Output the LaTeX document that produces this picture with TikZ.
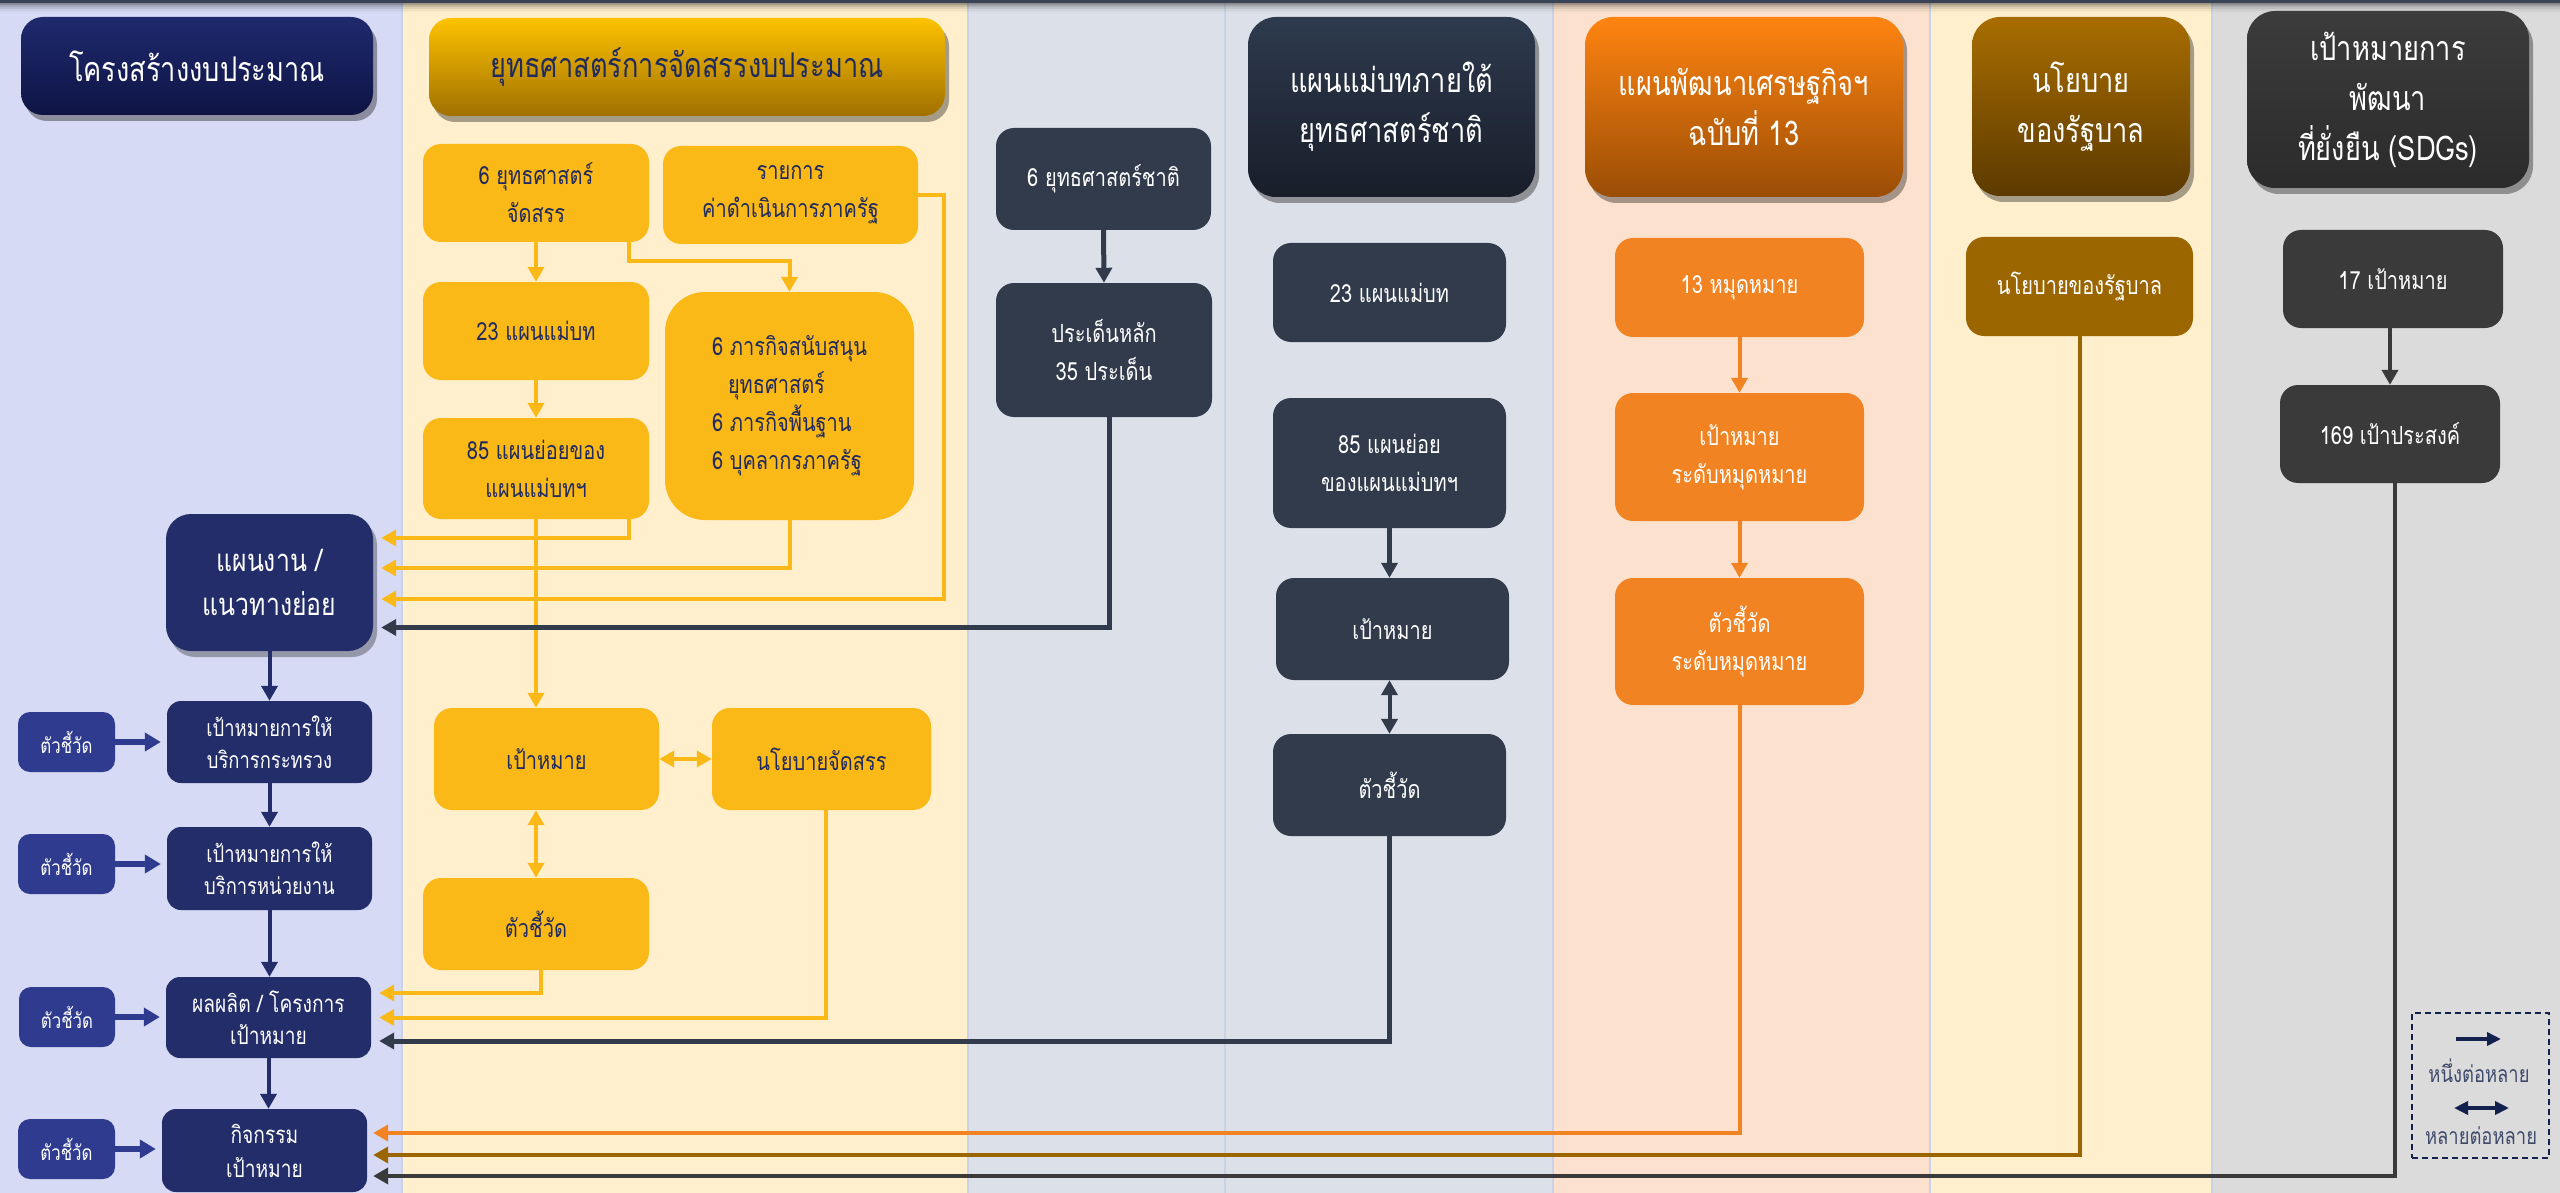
\documentclass[tikz,border=0pt]{standalone}
\usepackage{fontspec}
\setmainfont[Script=Thai,FakeStretch=0.8]{Loma}
\usetikzlibrary{arrows.meta,shadows,calc}
\definecolor{bgA}{HTML}{D6DAF4}
\definecolor{bgB}{HTML}{FFEFCD}
\definecolor{bgC}{HTML}{DCE0E8}
\definecolor{bgD}{HTML}{FCE2CE}
\definecolor{bgE}{HTML}{DCDBDC}
\definecolor{sepc}{HTML}{C8D3E8}
\definecolor{topband}{HTML}{3B4356}
\definecolor{navy}{HTML}{232D69}
\definecolor{navyk}{HTML}{2F3B8E}
\definecolor{navyt}{HTML}{1F2A5E}
\definecolor{yel}{HTML}{FBB917}
\definecolor{slate}{HTML}{313B4C}
\definecolor{orng}{HTML}{F28322}
\definecolor{brwn}{HTML}{9B6500}
\definecolor{dgray}{HTML}{3A3A3A}
\definecolor{legc}{HTML}{13214F}
\definecolor{legt}{HTML}{3F4A6B}
\definecolor{hAt}{HTML}{1F2A6E}\definecolor{hAb}{HTML}{0E1444}
\definecolor{hBt}{HTML}{FDC200}\definecolor{hBb}{HTML}{A07000}
\definecolor{hCt}{HTML}{2E3A4E}\definecolor{hCb}{HTML}{181E2A}
\definecolor{hDt}{HTML}{FF8411}\definecolor{hDb}{HTML}{9A4D05}
\definecolor{hEt}{HTML}{A86D00}\definecolor{hEb}{HTML}{5C3A00}
\definecolor{hFt}{HTML}{3C3C3C}\definecolor{hFb}{HTML}{2B2B2B}
\newcommand\mybox[7]{%
  \pgfmathsetmacro\bxw{#4-#2}\pgfmathsetmacro\bxh{#5-#3}%
  \pgfmathsetmacro\bxcx{(#2+#4)/2}\pgfmathsetmacro\bxcy{(#3+#5)/2}%
  \node[#6, minimum width=\bxw pt, minimum height=\bxh pt] (#1) at (\bxcx,\bxcy) {#7};}
\tikzset{
  base/.style={rounded corners=18pt, inner sep=0pt, align=center, font=\fontsize{25}{38}\selectfont},
  hdr/.style={base, rounded corners=22pt, text=white, font=\fontsize{34}{50}\selectfont,
     drop shadow={shadow xshift=4pt, shadow yshift=-6pt, opacity=0.35, fill=black}},
  ybox/.style={base, fill=yel, text=navyt},
  nbox/.style={base, fill=navy, text=white},
  kbox/.style={base, rounded corners=12pt, fill=navyk, text=white, font=\fontsize{21}{30}\selectfont},
  dbox/.style={base, fill=slate, text=white},
  obox/.style={base, fill=orng, text=white},
  bbox/.style={base, fill=brwn, text=white},
  gbox/.style={base, fill=dgray, text=white},
  tipT/.style={-{Triangle[length=15pt,width=16pt]}},
  tipD/.style={{Triangle[length=15pt,width=16pt]}-{Triangle[length=15pt,width=16pt]}},
  yA/.style={draw=yel, line width=4pt, tipT},
  yD/.style={draw=yel, line width=4pt, tipD},
  dA/.style={draw=slate, line width=5pt, tipT},
  dD/.style={draw=slate, line width=4pt, tipD},
  oA/.style={draw=orng, line width=4pt, tipT},
  bA/.style={draw=brwn, line width=4pt, tipT},
  gA/.style={draw=dgray, line width=4pt, tipT},
  nA/.style={draw=navy, line width=4pt, tipT},
  kA/.style={draw=navyk, line width=6pt, -{Triangle[length=16pt,width=18pt]}, shorten >=6pt},
}
\begin{document}
\begin{tikzpicture}[x=1pt,y=-1pt]
\useasboundingbox (0,0) rectangle (2560,1193);
% column backgrounds
\fill[bgA] (0,0) rectangle (402,1193);
\fill[bgB] (402,0) rectangle (968,1193);
\fill[bgC] (968,0) rectangle (1553,1193);
\fill[bgD] (1553,0) rectangle (1930,1193);
\fill[bgB] (1930,0) rectangle (2212,1193);
\fill[bgE] (2212,0) rectangle (2560,1193);
\foreach \sx in {402,968,1225,1553,1930,2212}
  \draw[sepc, line width=2pt] (\sx,0) -- (\sx,1193);
% top band
\foreach \i/\op in {3/0.22,5/0.16,7/0.11,9/0.07,11/0.04,13/0.02}
  \fill[black, opacity=\op] (0,3) rectangle (2560,\i);
\fill[topband] (0,0) rectangle (2560,3);

% headers
\mybox{h1}{21}{17}{373}{115}{hdr, top color=hAt, bottom color=hAb}{โครงสร้างงบประมาณ}
\mybox{h2}{429}{18}{945}{116}{hdr, text=navyt, top color=hBt, bottom color=hBb}{ยุทธศาสตร์การจัดสรรงบประมาณ}
\mybox{h3}{1248}{17}{1535}{197}{hdr, rounded corners=28pt, top color=hCt, bottom color=hCb}{แผนแม่บทภายใต้\\ยุทธศาสตร์ชาติ}
\mybox{h4}{1585}{17}{1903}{197}{hdr, rounded corners=28pt, top color=hDt, bottom color=hDb}{แผนพัฒนาเศรษฐกิจฯ\\ฉบับที่ 13}
\mybox{h5}{1972}{17}{2190}{196}{hdr, rounded corners=28pt, top color=hEt, bottom color=hEb}{นโยบาย\\ของรัฐบาล}
\mybox{h6}{2247}{11}{2529}{188}{hdr, rounded corners=28pt, top color=hFt, bottom color=hFb}{เป้าหมายการ\\พัฒนา\\ที่ยั่งยืน (SDGs)}

% column 2 (yellow)
\mybox{y1}{423}{144}{649}{242}{ybox}{6 ยุทธศาสตร์\\จัดสรร}
\mybox{y2}{663}{146}{918}{244}{ybox}{รายการ\\ค่าดำเนินการภาครัฐ}
\mybox{y3}{423}{282}{649}{380}{ybox}{23 แผนแม่บท}
\mybox{y4}{665}{292}{914}{520}{ybox, rounded corners=40pt, align=left}{6 ภารกิจสนับสนุน\\\hspace*{16pt}ยุทธศาสตร์\\6 ภารกิจพื้นฐาน\\6 บุคลากรภาครัฐ}
\mybox{y5}{423}{418}{649}{519}{ybox}{85 แผนย่อยของ\\แผนแม่บทฯ}
\mybox{y6}{434}{708}{659}{810}{ybox}{เป้าหมาย}
\mybox{y7}{712}{708}{931}{810}{ybox}{นโยบายจัดสรร}
\mybox{y8}{423}{878}{649}{970}{ybox}{ตัวชี้วัด}

% column 1 (navy)
\mybox{n1}{166}{514}{373}{651}{nbox, rounded corners=25pt, font=\fontsize{31}{44}\selectfont, drop shadow={shadow xshift=4pt, shadow yshift=-6pt, opacity=0.3, fill=black}}{แผนงาน /\\แนวทางย่อย}
\mybox{n2}{167}{701}{372}{783}{nbox, rounded corners=14pt, font=\fontsize{23}{32}\selectfont}{เป้าหมายการให้\\บริการกระทรวง}
\mybox{n3}{167}{827}{372}{910}{nbox, rounded corners=14pt, font=\fontsize{23}{32}\selectfont}{เป้าหมายการให้\\บริการหน่วยงาน}
\mybox{n4}{166}{977}{371}{1058}{nbox, rounded corners=14pt, font=\fontsize{24}{32}\selectfont}{ผลผลิต / โครงการ\\เป้าหมาย}
\mybox{n5}{162}{1109}{367}{1192}{nbox, rounded corners=14pt, font=\fontsize{24}{34}\selectfont}{กิจกรรม\\เป้าหมาย}
\mybox{k1}{18}{712}{115}{772}{kbox}{ตัวชี้วัด}
\mybox{k2}{18}{834}{115}{894}{kbox}{ตัวชี้วัด}
\mybox{k3}{19}{987}{115}{1047}{kbox}{ตัวชี้วัด}
\mybox{k4}{18}{1119}{115}{1179}{kbox}{ตัวชี้วัด}

% columns 3-4 (slate)
\mybox{d1}{996}{128}{1211}{230}{dbox}{6 ยุทธศาสตร์ชาติ}
\mybox{d2}{996}{283}{1212}{417}{dbox}{ประเด็นหลัก\\35 ประเด็น}
\mybox{d3}{1273}{243}{1506}{342}{dbox}{23 แผนแม่บท}
\mybox{d4}{1273}{398}{1506}{528}{dbox}{85 แผนย่อย\\ของแผนแม่บทฯ}
\mybox{d5}{1276}{578}{1509}{680}{dbox}{เป้าหมาย}
\mybox{d6}{1273}{734}{1506}{836}{dbox}{ตัวชี้วัด}

% column 5 (orange)
\mybox{o1}{1615}{238}{1864}{337}{obox}{13 หมุดหมาย}
\mybox{o2}{1615}{393}{1864}{521}{obox}{เป้าหมาย\\ระดับหมุดหมาย}
\mybox{o3}{1615}{578}{1864}{705}{obox}{ตัวชี้วัด\\ระดับหมุดหมาย}

% column 6-7
\mybox{b1}{1966}{237}{2193}{336}{bbox}{นโยบายของรัฐบาล}
\mybox{g1}{2283}{230}{2503}{328}{gbox}{17 เป้าหมาย}
\mybox{g2}{2280}{385}{2500}{483}{gbox}{169 เป้าประสงค์}

% yellow connectors
\draw[yA] (y1.south) -- (y3.north);
\draw[yA] ([xshift=-20pt]y1.south east) -- ++(0,19) -| (y4.north);
\draw[yA] (y3.south) -- (y5.north);
\draw[yA] ([xshift=-20pt]y5.south east) |- ([xshift=8pt,yshift=44.5pt]n1.east);
\draw[yA] (y4.south) |- ([xshift=8pt,yshift=14.5pt]n1.east);
\draw[yA] (y2.east) -- ++(26,0) |- ([xshift=8pt,yshift=-16.5pt]n1.east);
\draw[yA] (y5.south) -- (y5.south |- y6.north);
\draw[yD] (y6.east) -- (y7.west);
\draw[yD] (y8.north |- y6.south) -- (y8.north);
\draw[yA] ([xshift=5pt]y8.south) |- ([xshift=8pt,yshift=24.5pt]n4.east);
\draw[yA] ([xshift=4.5pt]y7.south) |- ([xshift=8pt]n4.east);

% slate connectors
\draw[dA] (d1.south) -- (d2.north);
\draw[dA] ([xshift=5pt]d2.south) |- ([xshift=8pt,yshift=-45pt]n1.east);
\draw[dA] (d4.south) -- (d4.south |- d5.north);
\draw[dD] (d4.south |- d5.south) -- (d4.south |- d6.north);
\draw[dA] (d6.south) |- ([xshift=8pt,yshift=-23.5pt]n4.east);

% orange / brown / gray connectors
\draw[oA] (o1.south) -- (o2.north);
\draw[oA] (o2.south) -- (o3.north);
\draw[oA] (o3.south) |- ([xshift=6pt,yshift=17.5pt]n5.east);
\draw[bA] (b1.south) |- ([xshift=6pt,yshift=-4.5pt]n5.east);
\draw[gA] (g2.north |- g1.south) -- (g2.north);
\draw[gA] ([xshift=5pt]g2.south) |- ([xshift=6pt,yshift=-25.5pt]n5.east);

% navy connectors
\draw[nA] (n1.south) -- (n1.south |- n2.north);
\draw[nA] (n2.south) -- (n2.south |- n3.north);
\draw[nA] (n3.south) -- (n3.south |- n4.north);
\draw[nA] (n4.south) -- (n4.south |- n5.north);
\draw[kA] (k1.east) -- (k1.east -| n2.west);
\draw[kA] (k2.east) -- (k2.east -| n3.west);
\draw[kA] (k3.east) -- (k3.east -| n4.west);
\draw[kA] (k4.east) -- (k4.east -| n5.west);

% legend
\mybox{lg}{2412}{1013}{2549}{1158}{draw=legc, line width=2pt, dash pattern=on 6pt off 4pt, inner sep=0pt}{}
\coordinate (la1) at (2456,1039);
\coordinate (la2) at (2501,1039);
\coordinate (lb1) at (2454,1108);
\coordinate (lb2) at (2509,1108);
\draw[legc, line width=4pt, -{Triangle[length=14pt,width=13pt]}] (la1) -- (la2);
\draw[legc, line width=4pt, {Triangle[length=14pt,width=13pt]}-{Triangle[length=14pt,width=13pt]}] (lb1) -- (lb2);
\node[text=legt, font=\fontsize{23}{26}\selectfont, inner sep=0pt] (lt1) at (2479,1071) {หนึ่งต่อหลาย};
\node[text=legt, font=\fontsize{23}{26}\selectfont, inner sep=0pt] (lt2) at (2481,1136) {หลายต่อหลาย};
\end{tikzpicture}
\end{document}
